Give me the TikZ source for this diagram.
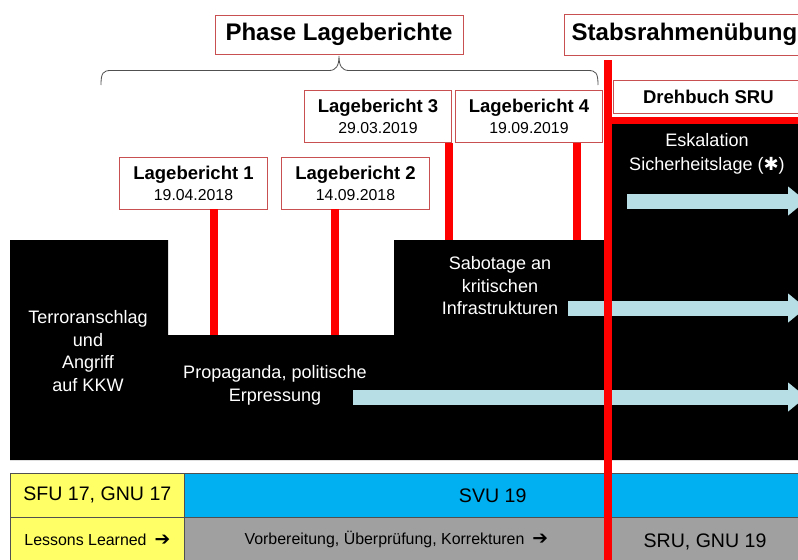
\documentclass[tikz,border=0pt]{standalone}
\usepackage{fontspec}
\setmainfont{Liberation Sans}
\newfontfamily\symfont{DejaVu Sans}
\usetikzlibrary{arrows.meta}
\definecolor{boxred}{RGB}{200,80,80}
\definecolor{barred}{RGB}{255,0,0}
\definecolor{flowblue}{RGB}{182,222,228}
\definecolor{sfuyellow}{RGB}{255,255,102}
\definecolor{svublue}{RGB}{0,176,240}
\definecolor{prepgray}{RGB}{160,160,160}
\definecolor{gridgray}{RGB}{80,80,80}
\newcommand{\goon}{\enspace{\symfont\fontsize{16}{16}\selectfont ➔}}
\begin{document}
\begin{tikzpicture}[x=0.03cm, y=-0.03cm,
        title/.style={rectangle, draw=boxred, fill=white, line width=0.7pt, text centered, minimum height=1.17cm, inner sep=0pt, font=\fontsize{20.5}{24}\selectfont\bfseries},
        lbbox/.style={rectangle, draw=boxred, fill=white, line width=0.7pt, align=center, minimum width=4.43cm, minimum height=1.56cm, inner sep=0pt, font=\fontsize{13.5}{18}\selectfont},
        darktext/.style={text=white, align=center, font=\fontsize{15.4}{19.2}\selectfont},
        flow/.style={draw=flowblue, line width=0.45cm, -{Triangle[width=0.84cm, length=0.54cm]}},
        stem/.style={draw=barred, line width=0.24cm},
        cell/.style={rectangle, draw=gridgray, line width=0.6pt, anchor=north west, inner sep=0pt, font=\fontsize{16.7}{20}\selectfont}]
        \useasboundingbox (0,0) rectangle (798,560);
        \clip (0,0) rectangle (798,560);
        \node[cell, fill=sfuyellow, minimum width=5.22cm, minimum height=1.32cm] (sfu) at (10,473) {SFU 17, GNU 17};
        \node[cell, fill=svublue, minimum width=18.5cm, minimum height=1.32cm] (svu) at (184,473) {SVU 19};
        \node[cell, fill=sfuyellow, minimum width=5.22cm, minimum height=1.35cm, font=\fontsize{13.6}{16}\selectfont] (les) at (10,517) {Lessons Learned\goon};
        \node[cell, fill=prepgray, minimum width=12.72cm, minimum height=1.35cm, font=\fontsize{13.6}{16}\selectfont] (prep) at (184,517) {Vorbereitung, Überprüfung, Korrekturen\goon};
        \node[cell, fill=prepgray, minimum width=5.8cm, minimum height=1.45cm] (srugnu) at (608,517) {SRU, GNU 19};
        \fill[black] (10,240) -- (168,240) -- (168,335) -- (394,335) -- (394,240) -- (608,240) -- (608,124) -- (800,124) -- (800,460) -- (10,460) -- cycle;
        \node[darktext] (terror) at (88,351) {Terroranschlag\\und\\Angriff\\auf KKW};
        \node[darktext] (propa) at (275,385.5) {Propaganda, politische\\Erpressung};
        \node[darktext] (sabo) at (500,286) {Sabotage an\\kritischen\\Infrastrukturen};
        \node[darktext, font=\fontsize{15.4}{20}\selectfont] (eskal) at (707,154) {Eskalation\\Sicherheitslage ({\symfont ✱})};
        \coordinate (f1a) at (627,201);
        \coordinate (f1b) at (806,201);
        \coordinate (f2a) at (568,308);
        \coordinate (f2b) at (806,308);
        \coordinate (f3a) at (353,397);
        \coordinate (f3b) at (806,397);
        \draw[flow] (f1a) -- (f1b);
        \draw[flow] (f2a) -- (f2b);
        \draw[flow] (f3a) -- (f3b);
        \node[lbbox] (lb1) at (193.5,183) {{\bfseries\fontsize{15.8}{18}\selectfont Lagebericht 1}\\19.04.2018};
        \node[lbbox, right of=lb1, node distance=4.86cm] (lb2) {{\bfseries\fontsize{15.8}{18}\selectfont Lagebericht 2}\\14.09.2018};
        \node[lbbox] (lb3) at (378,116.5) {{\bfseries\fontsize{15.8}{18}\selectfont Lagebericht 3}\\29.03.2019};
        \node[lbbox, right of=lb3, node distance=4.53cm] (lb4) {{\bfseries\fontsize{15.8}{18}\selectfont Lagebericht 4}\\19.09.2019};
        \coordinate (d1) at (214,335);
        \coordinate (d2) at (335,335);
        \coordinate (d3) at (449,240);
        \coordinate (d4) at (577,240);
        \draw[stem] (d1 |- lb1.south) -- (d1);
        \draw[stem] (d2 |- lb2.south) -- (d2);
        \draw[stem] (d3 |- lb3.south) -- (d3);
        \draw[stem] (d4 |- lb4.south) -- (d4);
        \node[title, minimum width=7.44cm] (phase) at (339,34.5) {Phase Lageberichte};
        \node[title, minimum width=7.5cm, minimum height=1.23cm, anchor=west] (stabs) at (564,34.5) {\hspace*{-0.3cm}Stabsrahmenübung};
        \node[title, minimum width=6.2cm, minimum height=0.99cm, anchor=west, font=\fontsize{15.8}{18}\selectfont\bfseries] (dreh) at (613,96.5) {Drehbuch SRU\hspace*{0.5cm}};
        \coordinate (cut) at (608,60);
        \coordinate (cutend) at (608,562);
        \coordinate (drehline) at (800,120.5);
        \draw[stem] (cut) -- (cutend);
        \draw[barred, line width=0.21cm] (cut |- drehline) -- (drehline);
        \coordinate (bl) at (101,85);
        \coordinate (br) at (598,85);
        \draw[gridgray, line width=0.7pt] (bl) .. controls (101,73) and (103,70.5) .. (111,70.5) -- (329,70.5) .. controls (336,70.5) and (339,66) .. (339,56) .. controls (339,66) and (342,70.5) .. (349,70.5) -- (588,70.5) .. controls (596,70.5) and (598,73) .. (br);
    \end{tikzpicture}
\end{document}
